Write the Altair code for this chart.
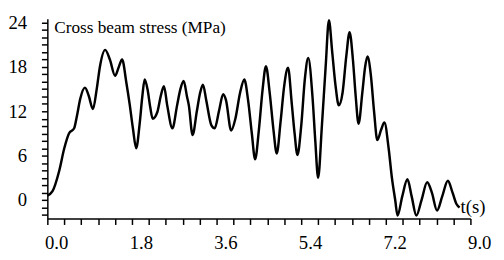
import altair as alt
import pandas as pd

t = [0.00, 0.11, 0.25, 0.36, 0.46, 0.57, 0.63, 0.70, 0.80, 0.88, 0.97, 1.05, 1.12, 1.23, 1.33,
     1.44, 1.52, 1.59, 1.68, 1.75, 1.82, 1.89, 1.96, 2.02, 2.07, 2.13, 2.19, 2.24, 2.34, 2.41,
     2.48, 2.55, 2.66, 2.76, 2.83, 2.90, 2.97, 3.01, 3.09, 3.18, 3.25, 3.31, 3.38, 3.49, 3.56,
     3.65, 3.74, 3.80, 3.91, 4.00, 4.10, 4.19, 4.27, 4.35, 4.42, 4.50, 4.58, 4.65, 4.73, 4.81,
     4.88, 4.96, 5.04, 5.12, 5.20, 5.26, 5.32, 5.40, 5.48, 5.55, 5.64, 5.70, 5.76, 5.84, 5.92,
     5.99, 6.06, 6.13, 6.20, 6.28, 6.36, 6.43, 6.50, 6.56, 6.62, 6.70, 6.76, 6.81, 6.88, 6.95,
     7.02, 7.10, 7.17, 7.26, 7.33, 7.40, 7.45, 7.55, 7.66, 7.75, 7.85, 7.96, 8.08, 8.18, 8.29,
     8.40, 8.52, 8.62, 8.70, 8.77]
stress = [0.6, 1.2, 3.9, 7.0, 9.0, 9.7, 11.4, 13.7, 15.2, 14.1, 12.3, 15.0, 18.1, 20.3, 19.0,
          16.8, 18.0, 19.0, 15.9, 13.0, 9.7, 7.0, 10.1, 14.0, 16.3, 15.0, 12.5, 11.0, 11.9, 14.0,
          15.4, 12.8, 9.7, 12.8, 15.0, 16.1, 14.0, 12.8, 8.8, 12.0, 14.5, 15.6, 13.5, 10.1, 9.7,
          12.0, 14.3, 13.5, 9.4, 11.0, 14.5, 16.3, 13.5, 9.0, 5.5, 9.5, 15.0, 18.1, 14.5, 9.5,
          6.3, 10.5, 15.5, 17.9, 13.0, 9.0, 6.1, 10.0, 16.5, 19.2, 14.0, 8.0, 3.0, 10.0, 18.0,
          24.3, 20.0, 15.5, 12.8, 14.5, 19.5, 22.7, 19.0, 14.0, 10.3, 14.5, 18.0, 19.4, 17.0, 12.0,
          8.1, 9.5, 10.5, 7.0, 3.0, 0.0, -2.1, 0.5, 2.8, 0.5, -2.1, 0.0, 2.4, 1.0, -1.4,
          0.5, 2.6, 1.0, -0.5, -1.0]

x_ticks = [round(0.36 * i, 2) for i in range(26)]
y_ticks = list(range(-2, 25))
title_text = "Cross beam stress (MPa)"
x_unit = "t(s)"

df = pd.DataFrame({"t": t, "stress": stress})

FONT = "'Liberation Serif', 'Times New Roman', 'DejaVu Serif', serif"

x_axis = alt.Axis(
    values=x_ticks,
    labelExpr="abs(round(datum.value/1.8)*1.8 - datum.value) < 0.01 ? format(datum.value, '.1f') : ''",
    tickSize=6,
    labelOffset=9,
    labelPadding=9,
    title=None,
    grid=False,
    labelFlush=False,
    labelOverlap=False,
)
y_axis = alt.Axis(
    values=y_ticks,
    labelExpr="datum.value % 6 == 0 ? datum.value : ''",
    tickSize=6,
    labelPadding=15,
    title=None,
    grid=False,
    labelOverlap=False,
)

line = alt.Chart(df).mark_line(color="black", strokeWidth=2.5, interpolate="monotone").encode(
    x=alt.X("t:Q", scale=alt.Scale(domain=[0, 9], nice=False, zero=False), axis=x_axis),
    y=alt.Y("stress:Q", scale=alt.Scale(domain=[-2.5, 24.5], nice=False, zero=False), axis=y_axis),
)

title = alt.Chart(pd.DataFrame({"label": [title_text]})).mark_text(
    align="left", baseline="alphabetic", font=FONT, fontSize=17.5, color="black"
).encode(x=alt.value(7), y=alt.value(14), text="label:N")

unit = alt.Chart(pd.DataFrame({"label": [x_unit]})).mark_text(
    align="left", baseline="alphabetic", font=FONT, fontSize=19, color="black"
).encode(x=alt.value(420), y=alt.value(197), text="label:N")

chart = alt.layer(line, title, unit).properties(
    width=430,
    height=203,
    autosize=alt.AutoSizeParams(type="none"),
    padding={"left": 40, "top": 9, "right": 26, "bottom": 32},
).configure_view(stroke=None).configure_axis(
    domainColor="black",
    domainWidth=1.5,
    tickColor="black",
    tickWidth=1.5,
    labelColor="black",
    labelFont=FONT,
    labelFontSize=19,
)

chart.save("out.html", embed_options={"renderer": "svg", "actions": False})
